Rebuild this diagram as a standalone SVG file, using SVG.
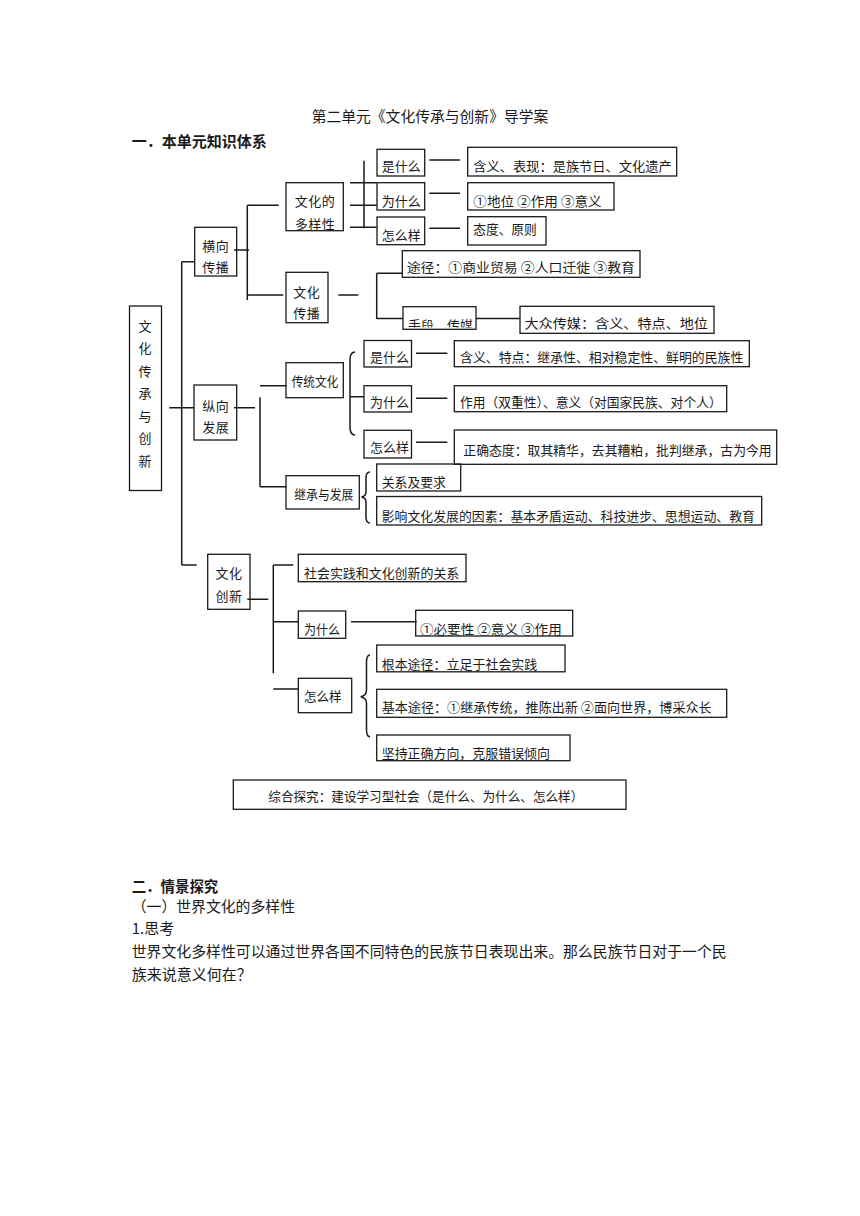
<svg xmlns="http://www.w3.org/2000/svg" width="860" height="1216" viewBox="0 0 860 1216">
<style>
text{font-family:"Noto Sans CJK SC","Noto Sans",sans-serif;fill:#1a1a1a;font-size:13px;dominant-baseline:central}
.b{fill:none;stroke:#1a1a1a;stroke-width:1.3}
.c{fill:none;stroke:#1a1a1a;stroke-width:1.5}
.m{text-anchor:middle}
.h{font-size:15px}
.hb{font-size:15px;font-weight:bold}
</style>
<defs>
<clipPath id="clipSd"><rect x="403" y="307.5" width="73" height="20"/></clipPath>
</defs>
<rect width="860" height="1216" fill="#fff"/>

<text class="h" x="311.7" y="115" textLength="236.6" lengthAdjust="spacingAndGlyphs">第二单元《文化传承与创新》导学案</text>
<text class="hb" x="131.7" y="140" textLength="135" lengthAdjust="spacingAndGlyphs">一．本单元知识体系</text>

<g id="connectors">
<path class="c" d="M181.7,261.7V565M181.7,261.7H194.7M169.3,407.7H194M181.7,565H196.7"/>
<path class="c" d="M234,250H249M247.3,205.3V300M247.3,205.3H278.7M247.3,295H283.3M338.3,295H358.3"/>
<path class="c" d="M364,160.7V228.3M350,182.7H376.7M350,205.3H376.7M350,227.3H376.7"/>
<path class="c" d="M429.3,160H460M429.3,193.3H460M429.3,228.3H460"/>
<path class="c" d="M376.7,273.3V319M376.7,273.3H402.3M376.7,318.5H403M476,318.5H520"/>
<path class="c" d="M234,407.7H255M260,397.3V486.7M260,385.7H286.7M260,486.7H286.7"/>
<path class="c" d="M355,352Q350,352 350,360V427Q350,435 355,435M350,396.7H364"/>
<path class="c" d="M416,353.3H447.3M416,398.3H447.3M416,442.3H447.3"/>
<path class="c" d="M370,472Q366,472 366,478V492Q366,496 361.5,497Q366,498 366,502V517Q366,523 370,523"/>
<path class="c" d="M247.3,599.3H268.3M273.3,565V673.3M273.3,565H293.3M273.3,621.7H298.3M273.3,689H298.3M351,621.7H416.7"/>
<path class="c" d="M370,655Q366.5,655 366.5,662V690Q366.5,695.5 360.7,696.7Q366.5,698 366.5,703V730Q366.5,736.7 370,736.7"/>
</g>

<g id="n-root">
<rect class="b" x="129.5" y="306" width="32" height="184.5"/>
<text class="m" x="145" y="325">文</text>
<text class="m" x="145" y="347.7">化</text>
<text class="m" x="145" y="370">传</text>
<text class="m" x="145" y="392.3">承</text>
<text class="m" x="145" y="415">与</text>
<text class="m" x="145" y="437.3">创</text>
<text class="m" x="145" y="460">新</text>
</g>

<g id="n-hx">
<rect class="b" x="194.7" y="227.3" width="42" height="48.7"/>
<text class="m" x="215.7" y="245" letter-spacing="0.5">横向</text>
<text class="m" x="215.7" y="266.7" letter-spacing="0.5">传播</text>
</g>
<g id="n-zx">
<rect class="b" x="194" y="385" width="42.7" height="55"/>
<text class="m" x="215.7" y="405" letter-spacing="0.5">纵向</text>
<text class="m" x="215.7" y="426.7" letter-spacing="0.5">发展</text>
</g>
<g id="n-cx">
<rect class="b" x="207.7" y="554.3" width="42.3" height="55"/>
<text class="m" x="229" y="572.7" letter-spacing="0.5">文化</text>
<text class="m" x="229" y="595" letter-spacing="0.5">创新</text>
</g>

<g id="n-dyx">
<rect class="b" x="286" y="182.7" width="57.3" height="48"/>
<text class="m" x="315" y="200" letter-spacing="0.5">文化的</text>
<text class="m" x="315" y="223.3" letter-spacing="0.5">多样性</text>
</g>
<g id="n-cb">
<rect class="b" x="286" y="272.3" width="42" height="50.4"/>
<text class="m" x="306.7" y="291" letter-spacing="0.5">文化</text>
<text class="m" x="306.7" y="312.3" letter-spacing="0.5">传播</text>
</g>

<g id="n-s1"><rect class="b" x="377" y="149.3" width="47.7" height="26.7"/><text x="381.7" y="165">是什么</text></g>
<g id="n-w1"><rect class="b" x="377" y="182.7" width="47.7" height="27.3"/><text x="381.7" y="200">为什么</text></g>
<g id="n-z1"><rect class="b" x="377" y="217" width="47.7" height="27.7"/><text x="381.7" y="234.3">怎么样</text></g>
<g id="n-hy1"><rect class="b" x="467.7" y="147.3" width="209" height="28.7"/><text x="473.3" y="165" textLength="198.4" lengthAdjust="spacingAndGlyphs">含义、表现：是族节日、文化遗产</text></g>
<g id="n-dw"><rect class="b" x="467.7" y="182.7" width="146.3" height="27.3"/><text x="473.3" y="200" textLength="128.4" lengthAdjust="spacingAndGlyphs">①地位 ②作用 ③意义</text></g>
<g id="n-td"><rect class="b" x="467.7" y="216.7" width="78.3" height="28.3"/><text x="473.3" y="228.3" textLength="63.4" lengthAdjust="spacingAndGlyphs">态度、原则</text></g>
<g id="n-tj"><rect class="b" x="402.3" y="250.7" width="237.7" height="26.6"/><text x="406.7" y="266.7" textLength="228.3" lengthAdjust="spacingAndGlyphs">途径：①商业贸易 ②人口迁徙 ③教育</text></g>
<g id="n-sd"><rect class="b" x="403" y="306.7" width="73" height="22.6"/><text x="408" y="324.7" textLength="65" lengthAdjust="spacingAndGlyphs" clip-path="url(#clipSd)">手段．传媒</text></g>
<g id="n-dz"><rect class="b" x="520" y="306.3" width="194" height="27"/><text x="524.5" y="322.7" textLength="183.5" lengthAdjust="spacingAndGlyphs">大众传媒：含义、特点、地位</text></g>

<g id="n-ct"><rect class="b" x="286" y="362.7" width="57.3" height="35"/><text x="291.7" y="380" textLength="46.6" lengthAdjust="spacingAndGlyphs">传统文化</text></g>
<g id="n-jc"><rect class="b" x="286" y="475.7" width="73.3" height="33.3"/><text x="294.3" y="493.3" textLength="59" lengthAdjust="spacingAndGlyphs">继承与发展</text></g>
<g id="n-s2"><rect class="b" x="364" y="340.5" width="47.5" height="26.5"/><text x="370" y="356.7">是什么</text></g>
<g id="n-w2"><rect class="b" x="364" y="385.7" width="47.5" height="26.3"/><text x="370" y="401.7">为什么</text></g>
<g id="n-z2"><rect class="b" x="364" y="430.3" width="47.5" height="27.7"/><text x="370" y="446.7">怎么样</text></g>
<g id="n-hy2"><rect class="b" x="454.3" y="340.7" width="295" height="26"/><text x="460" y="356.7" textLength="283.3" lengthAdjust="spacingAndGlyphs">含义、特点：继承性、相对稳定性、鲜明的民族性</text></g>
<g id="n-zy"><rect class="b" x="454.3" y="385.7" width="272.4" height="26"/><text x="460" y="401.7" textLength="261.7" lengthAdjust="spacingAndGlyphs">作用（双重性）、意义（对国家民族、对个人）</text></g>
<g id="n-zq"><rect class="b" x="454.3" y="430" width="322.4" height="34.3"/><text x="463.3" y="449" textLength="308.4" lengthAdjust="spacingAndGlyphs">正确态度：取其精华，去其糟粕，批判继承，古为今用</text></g>
<g id="n-gx"><rect class="b" x="376.7" y="464" width="84" height="27"/><text x="381.7" y="481.7" textLength="64.3" lengthAdjust="spacingAndGlyphs">关系及要求</text></g>
<g id="n-yx"><rect class="b" x="376.7" y="496.5" width="385" height="28.5"/><text x="381.7" y="515" textLength="373.3" lengthAdjust="spacingAndGlyphs">影响文化发展的因素：基本矛盾运动、科技进步、思想运动、教育</text></g>

<g id="n-sh"><rect class="b" x="298.3" y="554.3" width="167.7" height="27.4"/><text x="304" y="572.7" textLength="155.3" lengthAdjust="spacingAndGlyphs">社会实践和文化创新的关系</text></g>
<g id="n-w3"><rect class="b" x="298.3" y="611" width="47.4" height="27.3"/><text x="304" y="628.3" textLength="36" lengthAdjust="spacingAndGlyphs">为什么</text></g>
<g id="n-z3"><rect class="b" x="298.3" y="678.3" width="53.4" height="34.4"/><text x="304" y="695.7" textLength="37.7" lengthAdjust="spacingAndGlyphs">怎么样</text></g>
<g id="n-by"><rect class="b" x="415.7" y="610.3" width="157" height="25.7"/><text x="420" y="628.5" textLength="141.7" lengthAdjust="spacingAndGlyphs">①必要性 ②意义 ③作用</text></g>
<g id="n-gb"><rect class="b" x="376.7" y="645" width="188.3" height="26.8"/><text x="381.7" y="663.5" textLength="155.6" lengthAdjust="spacingAndGlyphs">根本途径：立足于社会实践</text></g>
<g id="n-jb"><rect class="b" x="376.7" y="689.3" width="350" height="28"/><text x="381.7" y="706" textLength="330" lengthAdjust="spacingAndGlyphs">基本途径：①继承传统，推陈出新 ②面向世界，博采众长</text></g>
<g id="n-jz"><rect class="b" x="376.7" y="735" width="193.3" height="25.7"/><text x="381.7" y="752.7" textLength="168.3" lengthAdjust="spacingAndGlyphs">坚持正确方向，克服错误倾向</text></g>
<g id="n-zh"><rect class="b" x="233.3" y="780" width="392.7" height="29.3"/><text x="268.3" y="795" textLength="315" lengthAdjust="spacingAndGlyphs">综合探究：建设学习型社会（是什么、为什么、怎么样）</text></g>

<text class="hb" x="131.7" y="885" textLength="86.6" lengthAdjust="spacingAndGlyphs">二．情景探究</text>
<text class="h" x="131.7" y="905" textLength="163.3" lengthAdjust="spacingAndGlyphs">（一）世界文化的多样性</text>
<text class="h" x="131.7" y="927">1.思考</text>
<text class="h" x="131.7" y="950.5" textLength="595" lengthAdjust="spacingAndGlyphs">世界文化多样性可以通过世界各国不同特色的民族节日表现出来。那么民族节日对于一个民</text>
<text class="h" x="131.7" y="973">族来说意义何在？</text>
</svg>
